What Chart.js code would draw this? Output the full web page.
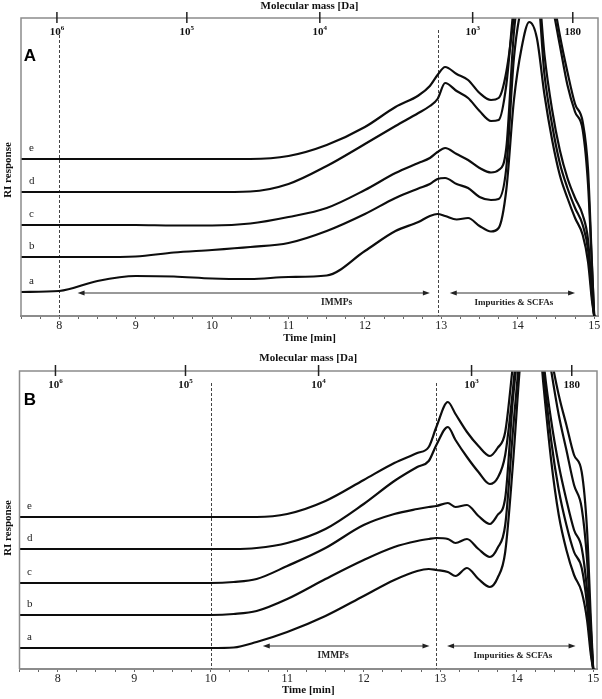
<!DOCTYPE html>
<html lang="en">
<head>
  <meta charset="UTF-8" />
  <title>RI chromatograms A and B</title>
  <script src="https://cdn.jsdelivr.net/npm/chart.js@4"></script>
  <style>
    body { margin: 0; background: #fff; }
    canvas { display: block; }
  </style>
</head>
<body>
  <canvas id="chartA" width="602" height="348"></canvas>
  <canvas id="chartB" width="602" height="351"></canvas>

  <script>
    const SERIF = "'Liberation Serif', 'DejaVu Serif', serif";
    const curveNames = ['a', 'b', 'c', 'd', 'e'];

    // panel A: retention time [min] and RI response (arbitrary, stacked traces)
    const timesA = [7.5, 8, 8.5, 9, 9.5, 10, 10.5, 11, 11.5, 12, 12.4, 12.7, 12.85, 12.95, 13.05, 13.2, 13.35, 13.5,
      13.65, 13.75, 13.85, 13.95, 14.05, 14.15, 14.25, 14.35, 14.45, 14.55, 14.65, 14.75, 14.85, 14.92, 14.97, 15.0];
    const aA = [24, 25, 35, 40, 39.5, 37.5, 37, 39, 40.5, 65, 85, 94, 100, 102, 100, 96.5, 98, 90,
      84.5, 88, 126, 216, 268, 294, 278, 221, 176, 141, 118, 98, 81, 54, 16, 0];
    const bA = [59, 59, 59, 59.5, 63.5, 66, 69, 73, 85, 102, 118, 127.5, 132, 137, 138, 132, 128, 119,
      116, 117, 148, 258, 310, 327, 326, 241, 191, 153, 128, 108, 91, 66, 21, 0];
    const cA = [91, 91, 91, 91, 90.5, 90.5, 92.5, 99, 108, 126, 143, 153, 158, 164, 168, 162, 156, 148,
      143.5, 146, 168, 284, 336, 360, 346, 261, 206, 166, 138, 118, 101, 76, 26, 0];
    const dA = [124, 124, 124, 124, 124, 124, 124.5, 132, 150, 172, 190, 203, 210, 217, 233, 225, 218, 205,
      195, 196, 231, 311, 360, 393, 400, 340, 311, 271, 231, 204, 186, 131, 51, 0];
    const eA = [157, 157, 157, 157, 157, 157, 157, 160, 171, 189, 209, 220.5, 230, 241, 249, 242, 236, 223,
      216, 218, 244, 301, 380, 426, 420, 380, 326, 281, 244, 212, 194, 146, 54, 0];

    // panel B
    const timesB = [7.5, 8, 9, 10, 10.3, 10.6, 11, 11.5, 12, 12.4, 12.7, 12.85, 12.95, 13.1, 13.2, 13.35, 13.5,
      13.65, 13.75, 13.85, 13.95, 14.05, 14.15, 14.25, 14.35, 14.45, 14.55, 14.65, 14.75, 14.85, 14.92, 14.97, 15.0];
    const aB = [21, 21, 21, 21, 21.5, 27, 37, 53, 73, 89, 98, 100, 99, 97, 93, 101, 90,
      82, 91, 117, 204, 310, 380, 370, 284, 209, 154, 119, 94, 77, 49, 14, 0];
    const bB = [54, 54, 54, 54, 55, 58, 70, 90, 109, 122, 128, 130, 131, 130, 126, 130, 120,
      112, 121, 144, 237, 325, 400, 390, 299, 229, 179, 144, 117, 101, 64, 19, 0];
    const cB = [86, 86, 86, 86, 87, 90, 103, 121, 144, 155, 160, 162, 163, 166, 162, 164, 153,
      145, 154, 171, 269, 340, 420, 410, 309, 249, 204, 169, 139, 121, 79, 29, 0];
    const dB = [120, 120, 120, 120, 120, 121, 126, 140, 165, 188, 202, 208, 224, 242, 229, 212, 197,
      185, 191, 214, 279, 360, 440, 430, 350, 299, 254, 219, 184, 161, 109, 39, 0];
    const eB = [152, 152, 152, 152, 152, 152, 155, 168, 189, 206, 216, 222, 242, 267, 255, 237, 223,
      213, 221, 237, 304, 380, 460, 450, 380, 314, 274, 244, 214, 197, 139, 49, 0];

    // molecular mass calibration marks on the top axis (time position, label)
    const massTimes = [7.97, 9.67, 11.41, 13.41, 14.72];
    const massBase = ['10', '10', '10', '10', '180'];
    const massExp = ['6', '5', '4', '3', ''];

    // annotated ranges and cut-offs
    const cutoffsA = [8, 12.95];
    const cutoffsB = [10, 12.95];
    const immpsA = [8.24, 12.85];
    const immpsB = [10.68, 12.86];
    const scfaA = [13.11, 14.75];
    const scfaB = [13.09, 14.77];

    const minorTimes = [];
    for (let v = 7.5; v <= 15; v += 0.25) minorTimes.push(v);

    function drawArrow(ctx, x1, x2, y) {
      ctx.beginPath(); ctx.moveTo(x1 + 4, y); ctx.lineTo(x2 - 4, y); ctx.stroke();
      [[x1, 1], [x2, -1]].forEach(([px, d]) => {
        ctx.beginPath();
        ctx.moveTo(px, y);
        ctx.lineTo(px + 7 * d, y - 2.5);
        ctx.lineTo(px + 7 * d, y + 2.5);
        ctx.closePath();
        ctx.fill();
      });
    }

    function decor(cfg) {
      return {
        id: 'decor',
        beforeDatasetsDraw(chart) {
          const { ctx, chartArea: ca, scales: { x } } = chart;
          ctx.save();
          ctx.strokeStyle = '#444'; ctx.lineWidth = 1; ctx.setLineDash([3, 2]);
          cfg.cutoffs.forEach(t => {
            const px = Math.round(x.getPixelForValue(t)) + 0.5;
            ctx.beginPath(); ctx.moveTo(px, ca.top + 12); ctx.lineTo(px, ca.bottom); ctx.stroke();
          });
          ctx.setLineDash([]);

          const ay = ca.bottom - 23;
          ctx.strokeStyle = '#333'; ctx.fillStyle = '#222'; ctx.lineWidth = 1;
          drawArrow(ctx, x.getPixelForValue(cfg.immps[0]), x.getPixelForValue(cfg.immps[1]), ay);
          drawArrow(ctx, x.getPixelForValue(cfg.scfa[0]), x.getPixelForValue(cfg.scfa[1]), ay);
          ctx.textAlign = 'center'; ctx.textBaseline = 'middle';
          ctx.font = 'bold 9.5px ' + SERIF;
          ctx.fillText('IMMPs', x.getPixelForValue(cfg.immpsAt), ay + 10);
          ctx.font = 'bold 9px ' + SERIF;
          ctx.fillText('Impurities & SCFAs', x.getPixelForValue(13.95), ay + 10);
          ctx.restore();
        },
        afterDraw(chart) {
          const { ctx, chartArea: ca, scales: { x, y } } = chart;
          ctx.save();
          // frame
          ctx.strokeStyle = '#8c8c8c'; ctx.lineWidth = 1.5;
          ctx.beginPath();
          ctx.moveTo(ca.left, ca.bottom); ctx.lineTo(ca.left, ca.top);
          ctx.lineTo(ca.right, ca.top); ctx.lineTo(ca.right, ca.bottom);
          ctx.stroke();

          // molecular mass marks
          ctx.strokeStyle = '#222'; ctx.fillStyle = '#111'; ctx.lineWidth = 1.5;
          ctx.textAlign = 'left'; ctx.textBaseline = 'alphabetic';
          massTimes.forEach((t, i) => {
            const px = x.getPixelForValue(t);
            ctx.beginPath(); ctx.moveTo(px, ca.top - 6); ctx.lineTo(px, ca.top + 5); ctx.stroke();
            ctx.font = 'bold 11px ' + SERIF;
            const wb = ctx.measureText(massBase[i]).width;
            ctx.font = 'bold 7px ' + SERIF;
            const we = massExp[i] ? ctx.measureText(massExp[i]).width : 0;
            const x0 = px - (wb + we) / 2;
            ctx.font = 'bold 11px ' + SERIF;
            ctx.fillText(massBase[i], x0, ca.top + 17);
            if (massExp[i]) {
              ctx.font = 'bold 7px ' + SERIF;
              ctx.fillText(massExp[i], x0 + wb, ca.top + 12);
            }
          });

          // trace labels
          ctx.font = '11px ' + SERIF; ctx.fillStyle = '#222';
          chart.data.datasets.forEach(ds => {
            const py = y.getPixelForValue(ds.data[0].y);
            ctx.fillText(ds.label, cfg.labelX, py - 8);
          });

          // y title
          ctx.save();
          ctx.translate(8, cfg.riY);
          ctx.rotate(-Math.PI / 2);
          ctx.textAlign = 'center'; ctx.textBaseline = 'middle';
          ctx.font = 'bold 11px ' + SERIF; ctx.fillStyle = '#111';
          ctx.fillText('RI response', 0, 0);
          ctx.restore();

          // panel letter
          ctx.font = "bold 17px 'Liberation Sans', Arial, sans-serif";
          ctx.fillStyle = '#000'; ctx.textAlign = 'center'; ctx.textBaseline = 'middle';
          ctx.fillText(cfg.letter, 30, cfg.letterY);
          ctx.restore();
        }
      };
    }

    function makeChart(id, cfg) {
      const datasets = curveNames.map((n, i) => ({
        label: n,
        data: cfg.times.map((t, k) => ({ x: t, y: cfg.series[i][k] })),
        borderColor: '#0d0d0d',
        borderWidth: 2.2,
        pointRadius: 0,
        fill: false,
        cubicInterpolationMode: 'monotone',
        clip: 0
      }));

      return new Chart(document.getElementById(id), {
        type: 'line',
        data: { datasets },
        options: {
          responsive: false,
          animation: false,
          devicePixelRatio: 1,
          layout: { padding: { left: cfg.left, right: 602 - cfg.right, top: 0, bottom: 0 } },
          plugins: { legend: { display: false }, tooltip: { enabled: false } },
          scales: {
            x: {
              type: 'linear', position: 'bottom', min: 7.5, max: 15.05,
              afterBuildTicks: s => { s.ticks = minorTimes.map(v => ({ value: v })); },
              afterFit: s => { s.height = cfg.bottomH; s.paddingLeft = 0; s.paddingRight = 0; },
              ticks: {
                autoSkip: false, maxRotation: 0, padding: 0, color: '#222',
                font: { family: SERIF, size: 12 },
                callback: v => Number.isInteger(v) ? v : ''
              },
              grid: { drawOnChartArea: false, tickLength: 3, tickColor: '#666', tickWidth: 1 },
              border: { color: '#8c8c8c', width: 2 },
              title: {
                display: true, text: 'Time [min]', color: '#111',
                font: { family: SERIF, size: 11, weight: 'bold' },
                padding: { top: 0, bottom: cfg.titlePad }
              }
            },
            x2: {
              type: 'linear', position: 'top', min: 0, max: 1,
              afterFit: s => { s.height = cfg.topH; s.paddingLeft = 0; s.paddingRight = 0; },
              ticks: { display: false },
              grid: { display: false },
              border: { display: false },
              title: {
                display: true, text: 'Molecular mass [Da]', color: '#111',
                font: { family: SERIF, size: 11, weight: 'bold' },
                padding: { top: cfg.topTitlePad, bottom: 0 }
              }
            },
            y: { display: false, min: 0, max: 298 }
          }
        },
        plugins: [decor(cfg)]
      });
    }

    makeChart('chartA', {
      times: timesA, series: [aA, bA, cA, dA, eA],
      left: 21, right: 598, topH: 18, bottomH: 32, titlePad: 3, topTitlePad: 0,
      cutoffs: cutoffsA, immps: immpsA, scfa: scfaA, immpsAt: 11.63,
      labelX: 29, riY: 170, letter: 'A', letterY: 56
    });

    makeChart('chartB', {
      times: timesB, series: [aB, bB, cB, dB, eB],
      left: 19.5, right: 597, topH: 23, bottomH: 30, titlePad: 2, topTitlePad: 3.5,
      cutoffs: cutoffsB, immps: immpsB, scfa: scfaB, immpsAt: 11.6,
      labelX: 27, riY: 180, letter: 'B', letterY: 52
    });
  </script>
</body>
</html>
